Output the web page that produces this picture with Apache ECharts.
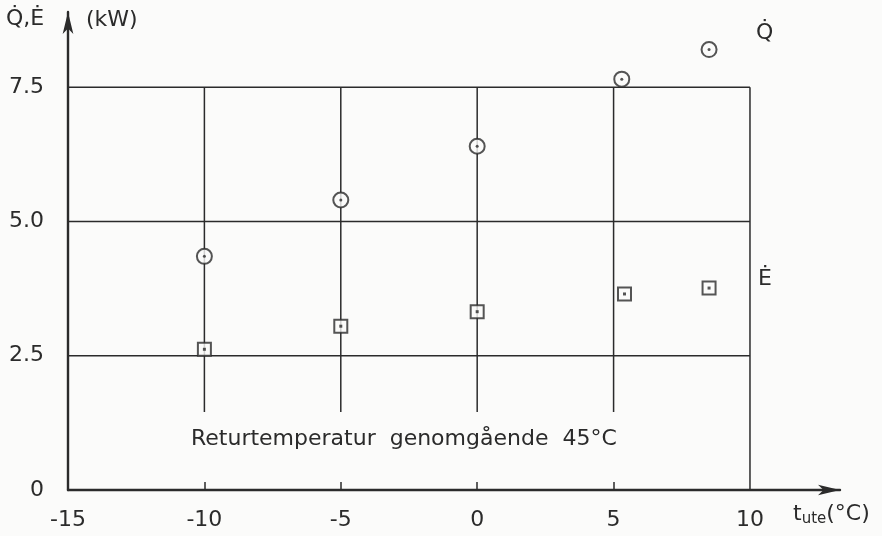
<!DOCTYPE html>
<html>
<head>
<meta charset="utf-8">
<script src="https://cdn.jsdelivr.net/npm/echarts@6/dist/echarts.min.js"></script>
<style>
  html, body { margin: 0; padding: 0; background: #fbfbfa; }
  #chart { width: 882px; height: 536px; }
</style>
</head>
<body>
<div id="chart"></div>
<script>
// Outdoor temperature (°C) of each measurement
const tUteQ = [-10, -5, 0, 5.3, 8.5];
const tUteE = [-10, -5, 0, 5.4, 8.5];
// Heat output Q̇ and electric input Ė (kW)
const heatQ = [4.35, 5.4, 6.4, 7.65, 8.2];
const powerE = [2.62, 3.05, 3.32, 3.65, 3.76];

// Tick labels
const xTicks = [-15, -10, -5, 0, 5, 10];
const xTickMarks = [-10, -5, 0, 5];
const yTicks = [0, 2.5, 5, 7.5];
const yTickText = ['0', '2.5', '5.0', '7.5'];

// Reference grid drawn on the paper
const hLines = [2.5, 5, 7.5];
const vLines = [-10, -5, 0, 5];
const vLineFrom = 1.45;

const ink = '#2b2b2b';
const paper = '#fbfbfa';
const font = 'DejaVu Sans';
const fs = 22;

const gridLineSeries = [];
hLines.forEach(v => gridLineSeries.push([[-15, v], [10, v]]));
vLines.forEach(v => gridLineSeries.push([[v, vLineFrom], [v, 7.5]]));
gridLineSeries.push([[10, 0], [10, 7.5]]);

const series = gridLineSeries.map(pts => ({
  type: 'line', data: pts, symbol: 'none', silent: true,
  lineStyle: { color: ink, width: 1.5 }, z: 1
}));

const pair = (xs, ys) => xs.map((x, i) => [x, ys[i]]);

series.push({
  type: 'scatter', data: pair(tUteQ, heatQ), symbol: 'circle', symbolSize: 15,
  itemStyle: { color: paper, borderColor: ink, borderWidth: 2 }, z: 5
});
series.push({
  type: 'scatter', data: pair(tUteQ, heatQ), symbol: 'circle', symbolSize: 3,
  itemStyle: { color: ink }, z: 6
});
series.push({
  type: 'scatter', data: pair(tUteE, powerE), symbol: 'rect', symbolSize: 13,
  itemStyle: { color: paper, borderColor: ink, borderWidth: 2 }, z: 5
});
series.push({
  type: 'scatter', data: pair(tUteE, powerE), symbol: 'rect', symbolSize: 3,
  itemStyle: { color: ink }, z: 6
});

const textStyle = { fontFamily: font, fontSize: fs, fill: ink };

const chart = echarts.init(document.getElementById('chart'));
chart.setOption({
  backgroundColor: paper,
  animation: false,
  grid: { left: 68, right: 42, top: 12, bottom: 46 },
  xAxis: {
    type: 'value', min: -15, max: 13.3, interval: 5,
    splitLine: { show: false },
    axisLine: { onZero: false, lineStyle: { color: ink, width: 2.4 }, symbol: ['none', 'arrow'], symbolSize: [8, 22] },
    axisTick: { show: true, inside: true, length: 8, customValues: xTickMarks, lineStyle: { color: ink, width: 1.5 } },
    axisLabel: {
      color: ink, fontFamily: font, fontSize: fs, margin: 19,
      customValues: xTicks,
      formatter: v => String(v)
    }
  },
  yAxis: {
    type: 'value', min: 0, max: 8.9, interval: 2.5,
    splitLine: { show: false },
    axisLine: { onZero: false, lineStyle: { color: ink, width: 2.4 }, symbol: ['none', 'arrow'], symbolSize: [8, 22] },
    axisTick: { show: false },
    axisLabel: {
      color: ink, fontFamily: font, fontSize: fs, margin: 24,
      customValues: yTicks,
      formatter: v => { const i = yTicks.indexOf(v); return i >= 0 ? yTickText[i] : ''; }
    }
  },
  graphic: [
    { type: 'text', left: 6, top: 8, style: Object.assign({ text: 'Q\u0307,\u0116' }, textStyle) },
    { type: 'text', left: 86, top: 9, style: Object.assign({ text: '(kW)' }, textStyle) },
    { type: 'text', left: 756, top: 22, style: Object.assign({ text: 'Q\u0307' }, textStyle) },
    { type: 'text', left: 758, top: 268, style: Object.assign({ text: '\u0116' }, textStyle) },
    { type: 'text', left: 191, top: 428, style: Object.assign({ text: 'Returtemperatur  genomgående  45°C' }, textStyle) },
    {
      type: 'text', left: 793, top: 503,
      style: {
        text: '{t|t}{s|ute}{t|(°C)}',
        rich: {
          t: { fontFamily: font, fontSize: fs, fill: ink },
          s: { fontFamily: font, fontSize: 15, fill: ink, verticalAlign: 'bottom', padding: [11, 0, 0, 0] }
        }
      }
    }
  ],
  series: series
});
</script>
</body>
</html>
